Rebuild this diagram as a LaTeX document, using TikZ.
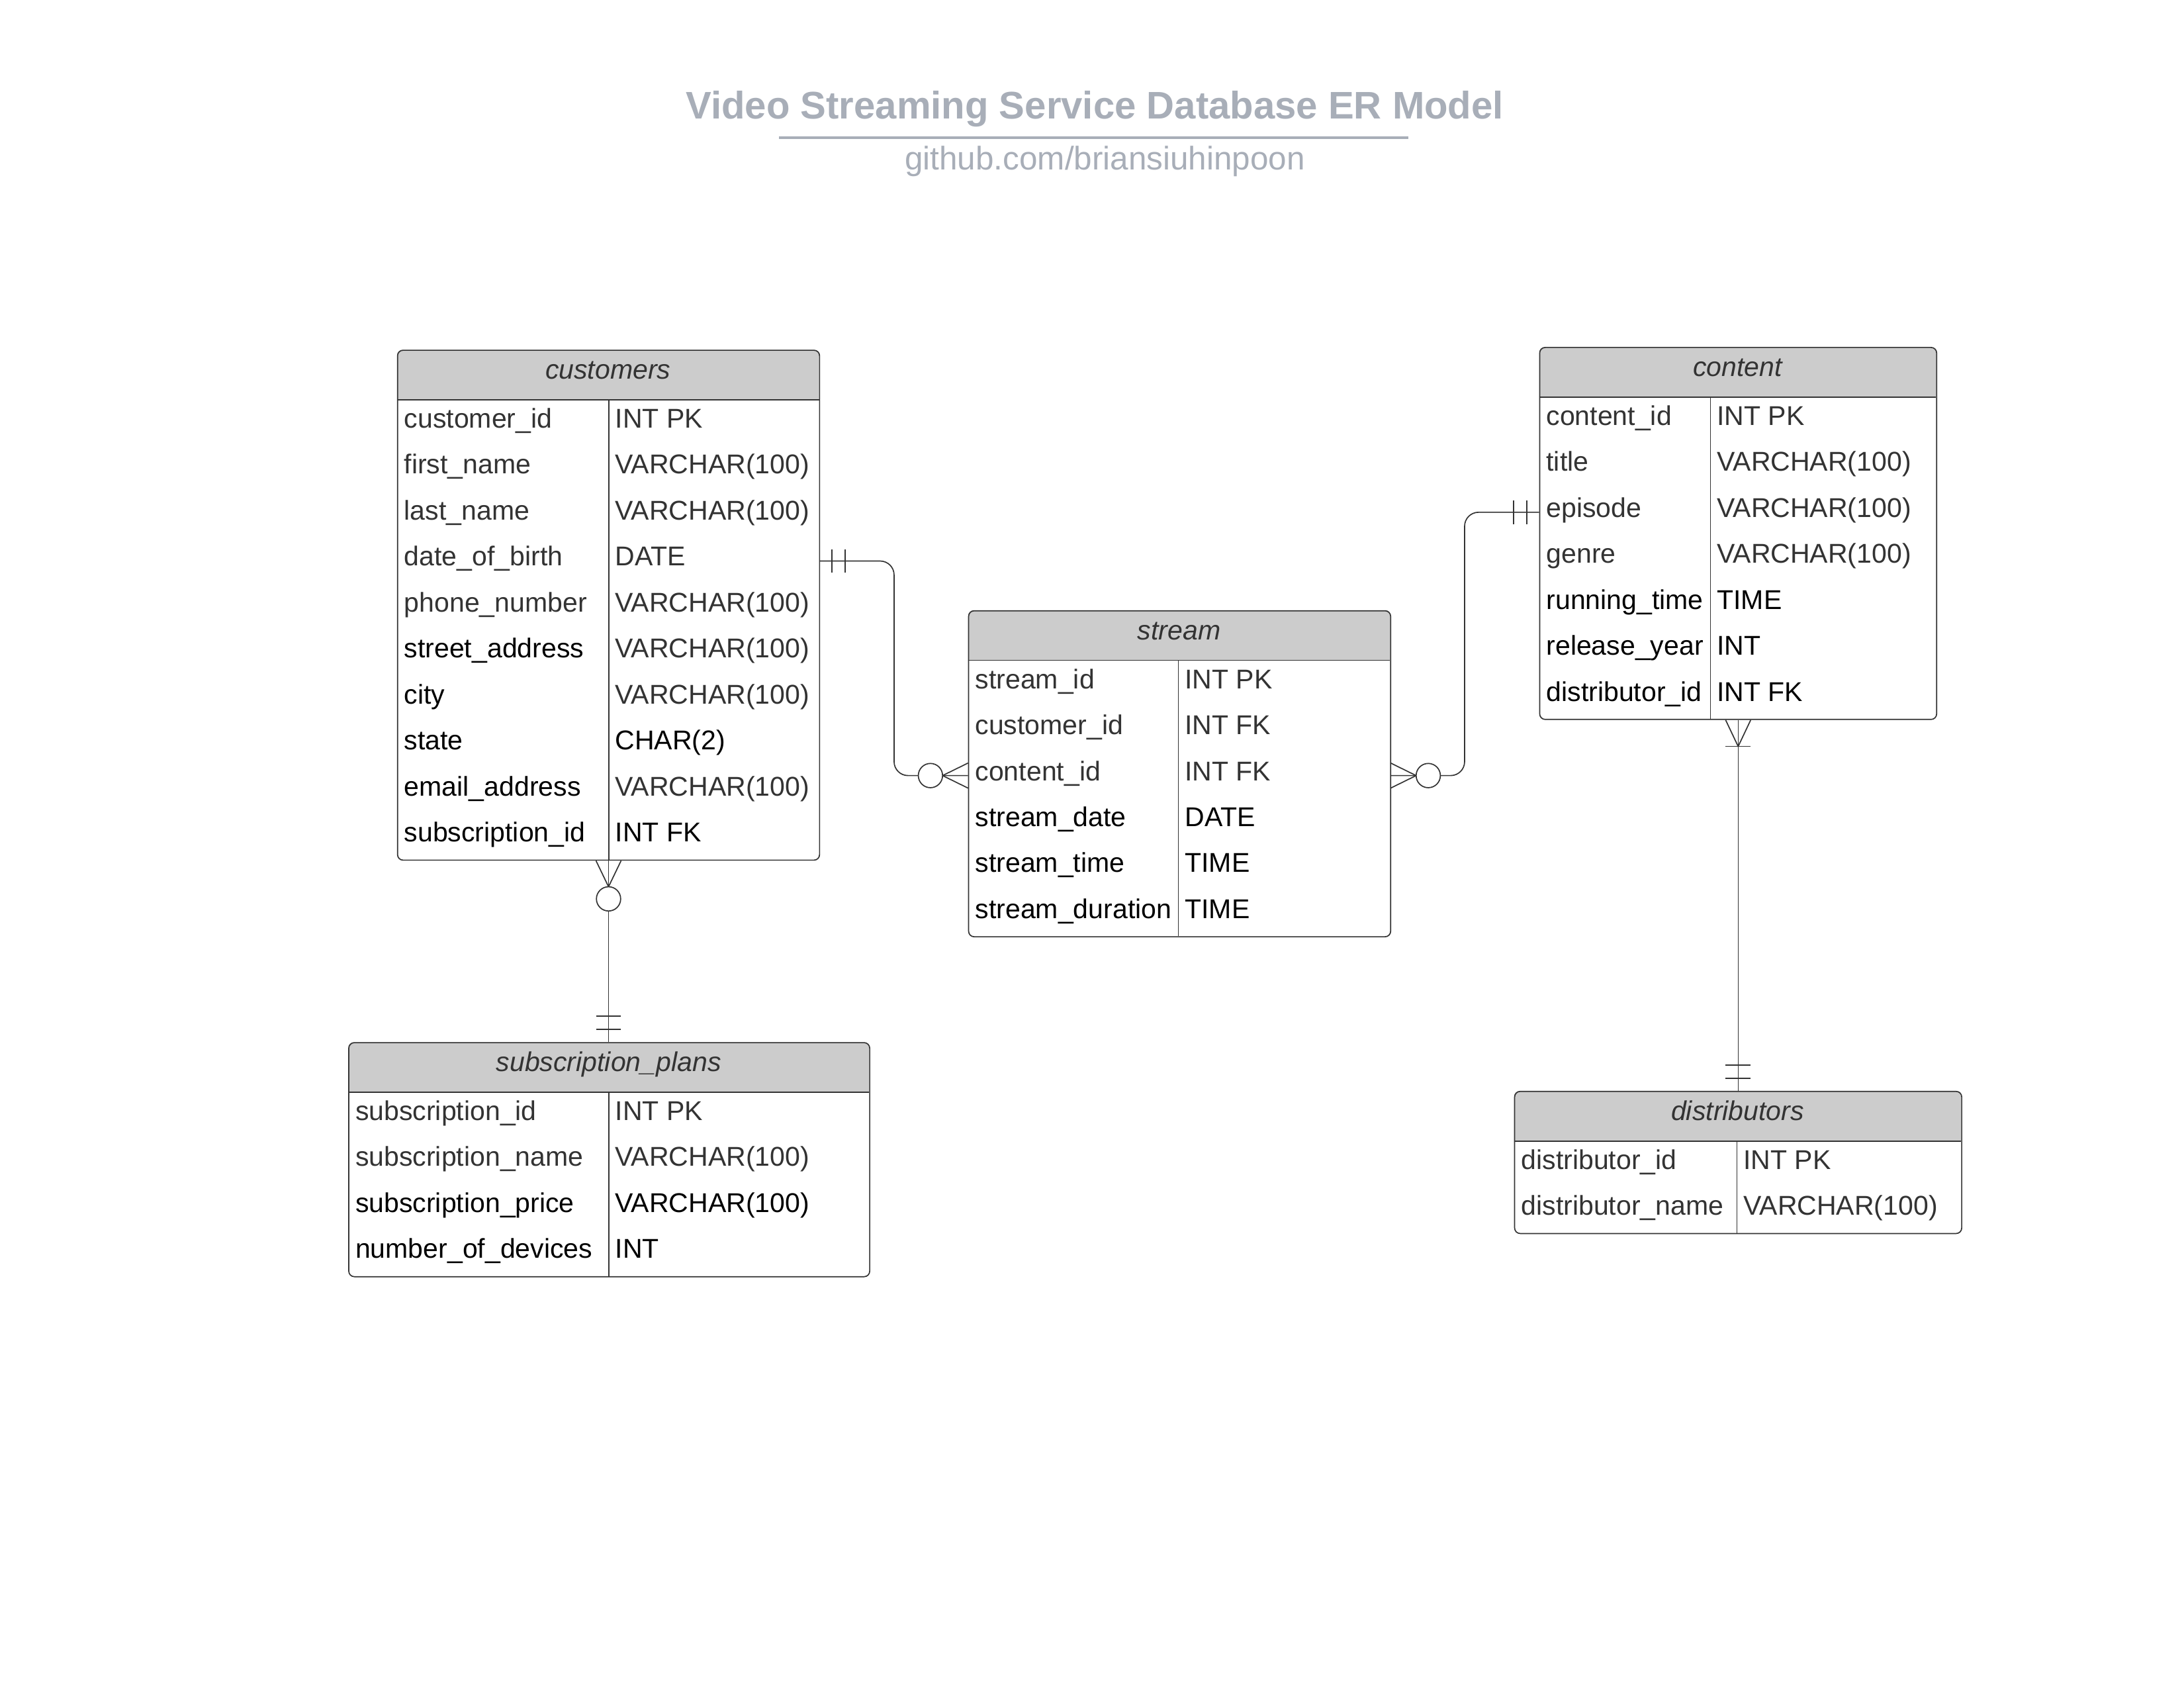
\documentclass[tikz,border=0pt]{standalone}
\usepackage{fontspec}
\setmainfont{Liberation Sans}
\usetikzlibrary{calc}
\definecolor{linec}{HTML}{333333}
\definecolor{headfill}{HTML}{CCCCCC}
\definecolor{tg}{HTML}{333333}
\definecolor{tk}{HTML}{000000}
\definecolor{titlec}{RGB}{168,174,184}
\tikzset{
  tablebox/.style={draw=linec, line width=0.8pt, rounded corners=4pt, inner sep=0pt, anchor=north west},
  rowbox/.style={inner sep=0pt, anchor=north west, minimum height=33pt},
  rowtext/.style={inner sep=0pt, anchor=base west, font=\fontsize{19.5}{23}\selectfont},
  headtext/.style={inner sep=0pt, anchor=base, text=tg, font=\fontsize{19.5}{23}\selectfont\itshape},
  sepline/.style={draw=linec, line width=0.8pt},
  rel/.style={draw=linec, line width=0.8pt},
  titletext/.style={inner sep=0pt, anchor=base, text=titlec, font=\fontsize{27.6}{33}\selectfont\bfseries},
  subtext/.style={inner sep=0pt, anchor=base, text=titlec, font=\fontsize{23.5}{28}\selectfont},
}
\newcommand{\ertable}[8]{%
  \pgfmathsetmacro{\erbot}{#3+36+#8*33}%
  \pgfmathsetmacro{\erw}{#4-#2}%
  \pgfmathsetmacro{\erh}{36+#8*33}%
  \begin{scope}
    \clip[rounded corners=4pt] (#2,#3) rectangle (#4,\erbot);
    \fill[headfill] (#2,#3) rectangle (#4,#3+36);
  \end{scope}
  \foreach \fn/\ft/\fa/\fb [count=\i] in {#7} {
    \node[rowbox, minimum width=\erw pt] (#1-\i) at (#2,{#3+36+(\i-1)*33}) {};
    \node[rowtext, text=\fa] (#1-\i-n) at (#2+5,{#3+56.2+(\i-1)*33}) {\fn};
    \node[rowtext, text=\fb] (#1-\i-t) at (#5+4.5,{#3+56.2+(\i-1)*33}) {\ft};
  }
  \node[tablebox, minimum width=\erw pt, minimum height=\erh pt] (#1) at (#2,#3) {};
  \draw[sepline] (#2,#3+36) -- (#4,#3+36);
  \draw[sepline] (#5,#3+36) -- (#5,\erbot);
  \node[headtext] (#1-head) at ({(#2+#4)/2},#3+21.2) {#6};
}
\begin{document}
\begin{tikzpicture}[x=1pt,y=-1pt]
\useasboundingbox (0,0) rectangle (1568,1211.6);
\fill[white] (0,0) rectangle (1568,1211.6);

% title
\node[titletext] (title) at (786,85.5) {Video Streaming Service Database ER Model};
\coordinate (ulL) at (559.3,98.7);
\coordinate (ulR) at (1011,98.7);
\draw[titlec, line width=1.8pt] (ulL) -- (ulR);
\node[subtext] (subtitle) at (793.3,122) {github.com/briansiuhinpoon};

% tables
\ertable{cust}{285}{251}{588}{437}{customers}{%
  customer\_id/INT PK/tg/tg,
  first\_name/VARCHAR(100)/tg/tg,
  last\_name/VARCHAR(100)/tg/tg,
  date\_of\_birth/DATE/tg/tg,
  phone\_number/VARCHAR(100)/tg/tg,
  street\_address/VARCHAR(100)/tk/tg,
  city/VARCHAR(100)/tk/tg,
  state/CHAR(2)/tk/tk,
  email\_address/VARCHAR(100)/tk/tg,
  subscription\_id/INT FK/tk/tk}{10}

\ertable{stream}{695}{438}{998}{846}{stream}{%
  stream\_id/INT PK/tg/tg,
  customer\_id/INT FK/tg/tg,
  content\_id/INT FK/tg/tg,
  stream\_date/DATE/tk/tk,
  stream\_time/TIME/tk/tk,
  stream\_duration/TIME/tk/tk}{6}

\ertable{content}{1105}{249}{1390}{1228}{content}{%
  content\_id/INT PK/tg/tg,
  title/VARCHAR(100)/tg/tg,
  episode/VARCHAR(100)/tg/tg,
  genre/VARCHAR(100)/tg/tg,
  running\_time/TIME/tk/tk,
  release\_year/INT/tk/tk,
  distributor\_id/INT FK/tk/tk}{7}

\ertable{subs}{250}{748}{624}{437}{subscription\_plans}{%
  subscription\_id/INT PK/tg/tg,
  subscription\_name/VARCHAR(100)/tg/tg,
  subscription\_price/VARCHAR(100)/tk/tk,
  number\_of\_devices/INT/tk/tk}{4}

\ertable{dist}{1087}{783}{1408}{1247}{distributors}{%
  distributor\_id/INT PK/tg/tg,
  distributor\_name/VARCHAR(100)/tg/tg}{2}

% connector: customers -> stream
\draw[rel, rounded corners=10pt] (cust-4.east) -- ++(53.5,0) |- (stream-3.west);
\draw[rel] ($(cust-4.east)+(9,-8.5)$) -- ++(0,17);
\draw[rel] ($(cust-4.east)+(18.5,-8.5)$) -- ++(0,17);
\draw[rel] ($(stream-3.west)+(-18.3,0)$) -- ++(18.3,-9);
\draw[rel] ($(stream-3.west)+(-18.3,0)$) -- ++(18.3,9);
\draw[rel, fill=white] ($(stream-3.west)+(-27,0)$) circle (8.7pt);

% connector: content -> stream
\draw[rel, rounded corners=10pt] (content-3.west) -- ++(-53.5,0) |- (stream-3.east);
\draw[rel] ($(content-3.west)+(-9,-8.5)$) -- ++(0,17);
\draw[rel] ($(content-3.west)+(-18.5,-8.5)$) -- ++(0,17);
\draw[rel] ($(stream-3.east)+(18.3,0)$) -- ++(-18.3,-9);
\draw[rel] ($(stream-3.east)+(18.3,0)$) -- ++(-18.3,9);
\draw[rel, fill=white] ($(stream-3.east)+(27,0)$) circle (8.7pt);

% connector: customers -> subscription_plans
\coordinate (subtop) at (cust.south |- subs.north);
\draw[rel] (cust.south) -- (subtop);
\draw[rel] ($(cust.south)+(-9,0)$) -- ($(cust.south)+(0,18.7)$) -- ($(cust.south)+(9,0)$);
\draw[rel, fill=white] ($(cust.south)+(0,27.4)$) circle (8.7pt);
\draw[rel] ($(subtop)+(-9,-9)$) -- ++(18,0);
\draw[rel] ($(subtop)+(-9,-18.5)$) -- ++(18,0);

% connector: content -> distributors
\coordinate (disttop) at (content.south |- dist.north);
\draw[rel] (content.south) -- (disttop);
\draw[rel] ($(content.south)+(-9,0)$) -- ($(content.south)+(0,19)$) -- ($(content.south)+(9,0)$);
\draw[rel] ($(content.south)+(-9,19)$) -- ++(18,0);
\draw[rel] ($(disttop)+(-9,-9)$) -- ++(18,0);
\draw[rel] ($(disttop)+(-9,-18.5)$) -- ++(18,0);
\end{tikzpicture}
\end{document}
